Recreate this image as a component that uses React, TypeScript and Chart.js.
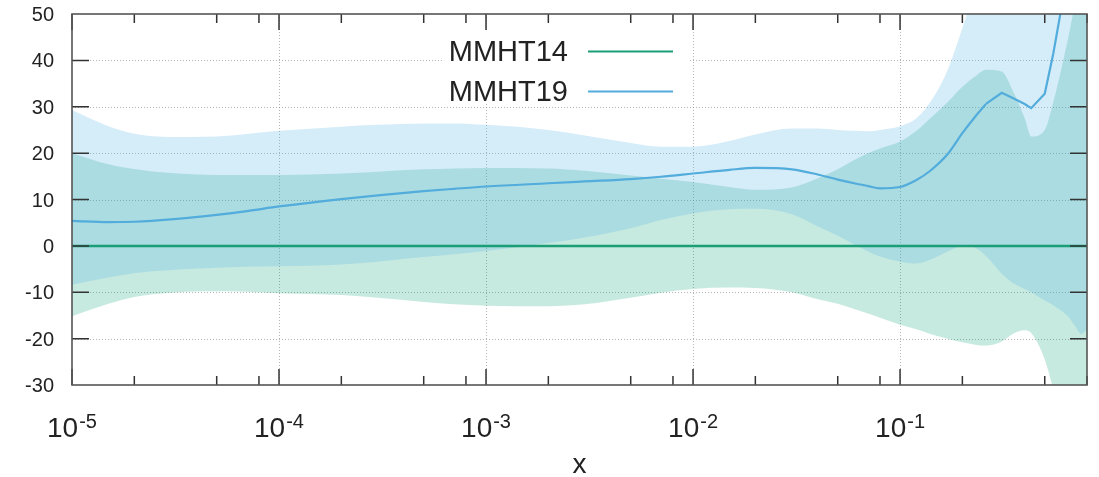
import React, { useEffect, useRef } from 'react';
import { Chart, registerables } from 'chart.js';

Chart.register(...registerables);

const W = 1099;
const H = 477;
const FONT = '"Liberation Sans", Arial, Helvetica, sans-serif';

// ---------- data ----------
const xValues = [
  1e-5, 1.5e-5, 2e-5, 3e-5, 5e-5, 7e-5, 1e-4, 2e-4, 3e-4, 5e-4, 7e-4,
  1e-3, 2e-3, 3e-3, 5e-3, 7e-3, 1e-2, 1.5e-2, 2e-2, 3e-2, 4e-2, 5e-2,
  6e-2, 7e-2, 8e-2, 0.1, 0.12, 0.14, 0.17, 0.2, 0.23, 0.26, 0.31, 0.35,
  0.4, 0.43, 0.5, 0.55, 0.6, 0.65, 0.7, 0.75, 0.8,
];

const mmht14Central = [
  0, 0, 0, 0, 0, 0, 0, 0, 0, 0, 0, 0, 0, 0, 0, 0, 0, 0, 0, 0, 0, 0,
  0, 0, 0, 0, 0, 0, 0, 0, 0, 0, 0, 0, 0, 0, 0, 0, 0, 0, 0, 0, 0,
];
const mmht14Upper = [
  20.0, 17.6, 16.6, 15.7, 15.3, 15.3, 15.3, 15.6, 16.0, 16.5, 16.7,
  16.8, 16.7, 16.2, 15.2, 14.5, 13.8, 12.7, 12.1, 12.6, 14.6, 16.5,
  18.5, 20.0, 21.0, 22.5, 24.8, 27.5, 31.0, 34.3, 36.5, 38.0, 37.6, 33.5,
  27.5, 23.6, 25.0, 31, 38, 45, 52, 56, 56,
];
const mmht14Lower = [
  -15.2, -12.5, -11.0, -10.1, -9.8, -9.9, -10.2, -10.6, -11.2, -12.1, -12.6,
  -12.9, -13.0, -12.6, -11.2, -10.1, -9.3, -9.0, -9.1, -10.0, -11.5, -12.5,
  -13.6, -14.6, -15.5, -17.0, -18.0, -19.0, -20.0, -20.8, -21.3, -21.5, -20.6, -19.0,
  -18.2, -18.8, -24.5, -31, -38, -45, -52, -58, -62,
];

const mmht19Central = [
  5.4, 5.1, 5.2, 5.7, 6.7, 7.5, 8.5, 10.1, 10.9, 11.8, 12.3,
  12.8, 13.5, 13.9, 14.4, 14.9, 15.6, 16.4, 16.8, 16.5, 15.4, 14.3,
  13.5, 12.9, 12.4, 12.7, 14.2, 16.2, 19.8, 24.3, 27.8, 30.6, 33.0, 31.9,
  30.6, 29.7, 32.8, 41.5, 51, 60, 70, 80, 90,
];
const mmht19Upper = [
  29.3, 25.8, 24.2, 23.5, 23.6, 24.1, 24.8, 25.7, 26.1, 26.4, 26.4,
  26.1, 25.0, 23.8, 22.2, 21.4, 21.4, 22.6, 24.0, 25.3, 25.3, 25.0,
  24.8, 24.7, 25.0, 25.8, 27.5, 31.0, 38.0, 47, 55, 62, 70, 75,
  80, 82, 85, 88, 90, 92, 95, 97, 100,
];
const mmht19Lower = [
  -8.4, -6.8, -5.9, -5.2, -4.7, -4.5, -4.4, -4.0, -3.4, -2.4, -1.8,
  -1.1, 0.6, 1.8, 3.8, 5.6, 7.0, 7.9, 8.0, 6.8, 4.2, 2.2,
  0.3, -1.2, -2.3, -3.4, -3.8, -3.0, -1.2, -0.1, -0.4, -2.2, -6.0, -8.0,
  -9.3, -10.0, -11.8, -12.8, -14.0, -15.3, -17.3, -19.0, -18.0,
];

// above this x the MMHT19 central curve is drawn as straight segments (coarse grid)
const SMOOTH_LIMIT_X = 0.26;

const seriesLabels = ['MMHT14', 'MMHT19'];
const yTickValues = [-30, -20, -10, 0, 10, 20, 30, 40, 50];
const xMajorTicks = [1e-5, 1e-4, 1e-3, 1e-2, 1e-1];
const xMajorExponents = ['-5', '-4', '-3', '-2', '-1'];
const xMinorMultipliers = [2, 5, 8];
const xAxisTitle = 'x';

const X_MIN = 1e-5;
const X_MAX = 0.8;
const Y_MIN = -30;
const Y_MAX = 50;

// ---------- styles ----------
const GREEN = '#1b9d76';
const BLUE_LINE = '#52acdc';
const GREEN_FILL = 'rgba(0,158,115,0.22)';
const BLUE_FILL = 'rgba(86,180,233,0.25)';

const axesPlugin = {
  id: 'gnuplotAxes',
  beforeDatasetsDraw(chart: any) {
    const { ctx, chartArea: a, scales } = chart;
    const x = scales.x;
    const y = scales.y;
    ctx.save();
    ctx.strokeStyle = 'rgba(130,130,130,0.6)';
    ctx.lineWidth = 1;
    ctx.setLineDash([1, 2]);
    for (const v of yTickValues) {
      if (v === Y_MIN || v === Y_MAX) continue;
      const py = Math.round(y.getPixelForValue(v)) + 0.5;
      ctx.beginPath();
      ctx.moveTo(a.left, py);
      ctx.lineTo(a.right, py);
      ctx.stroke();
    }
    for (const v of xMajorTicks) {
      if (v <= X_MIN) continue;
      const px = Math.round(x.getPixelForValue(v)) + 0.5;
      ctx.beginPath();
      ctx.moveTo(px, a.top);
      ctx.lineTo(px, a.bottom);
      ctx.stroke();
    }
    ctx.restore();
  },
  afterDatasetsDraw(chart: any) {
    const { ctx, chartArea: a, scales } = chart;
    const x = scales.x;
    const y = scales.y;
    ctx.save();
    ctx.setLineDash([]);

    // ticks (inward, mirrored)
    ctx.strokeStyle = '#333';
    ctx.lineWidth = 1.5;
    for (const v of yTickValues) {
      if (v === Y_MIN || v === Y_MAX) continue;
      const py = y.getPixelForValue(v);
      ctx.beginPath();
      ctx.moveTo(a.left, py);
      ctx.lineTo(a.left + 17, py);
      ctx.moveTo(a.right, py);
      ctx.lineTo(a.right - 17, py);
      ctx.stroke();
    }
    for (const v of xMajorTicks) {
      const px = x.getPixelForValue(v);
      ctx.beginPath();
      ctx.moveTo(px, a.bottom);
      ctx.lineTo(px, a.bottom - 16);
      ctx.moveTo(px, a.top);
      ctx.lineTo(px, a.top + 16);
      ctx.stroke();
      for (const m of xMinorMultipliers) {
        const mv = v * m;
        if (mv > X_MAX) continue;
        const mp = x.getPixelForValue(mv);
        ctx.beginPath();
        ctx.moveTo(mp, a.bottom);
        ctx.lineTo(mp, a.bottom - 9);
        ctx.moveTo(mp, a.top);
        ctx.lineTo(mp, a.top + 9);
        ctx.stroke();
      }
    }

    // frame
    ctx.strokeStyle = '#555';
    ctx.lineWidth = 1.6;
    ctx.strokeRect(a.left, a.top, a.right - a.left, a.bottom - a.top);

    // y labels
    ctx.fillStyle = '#222';
    ctx.font = `20px ${FONT}`;
    ctx.textAlign = 'right';
    ctx.textBaseline = 'middle';
    for (const v of yTickValues) {
      ctx.fillText(String(v), a.left - 18, y.getPixelForValue(v) + 1.5);
    }

    // x labels (10 with superscript exponent)
    ctx.textAlign = 'left';
    ctx.textBaseline = 'alphabetic';
    xMajorTicks.forEach((v, i) => {
      const px = x.getPixelForValue(v);
      ctx.font = `28px ${FONT}`;
      const wb = ctx.measureText('10').width;
      ctx.font = `20px ${FONT}`;
      const ws = ctx.measureText(xMajorExponents[i]).width;
      const start = px - (wb + 1 + ws) / 2;
      ctx.font = `28px ${FONT}`;
      ctx.fillText('10', start, a.bottom + 52);
      ctx.font = `20px ${FONT}`;
      ctx.fillText(xMajorExponents[i], start + wb + 1, a.bottom + 43);
    });

    // axis title
    ctx.font = `28px ${FONT}`;
    ctx.textAlign = 'center';
    ctx.fillText(xAxisTitle, (a.left + a.right) / 2, a.bottom + 88);

    // legend (opaque key box)
    ctx.fillStyle = '#fff';
    ctx.fillRect(443, 30, 245, 74);
    const legendColors = [GREEN, BLUE_LINE];
    const legendY = [51.5, 91.5];
    seriesLabels.forEach((lab, i) => {
      ctx.fillStyle = '#222';
      ctx.font = `29px ${FONT}`;
      ctx.textAlign = 'right';
      ctx.textBaseline = 'middle';
      ctx.fillText(lab, 568, legendY[i] + 1);
      ctx.strokeStyle = legendColors[i];
      ctx.lineWidth = 2;
      ctx.beginPath();
      ctx.moveTo(588, legendY[i]);
      ctx.lineTo(673, legendY[i]);
      ctx.stroke();
    });

    ctx.restore();
  },
};

export default function App() {
  const ref = useRef<HTMLCanvasElement>(null);

  useEffect(() => {
    const canvas = ref.current;
    if (!canvas) return;
    const pts = (ys: number[]) => xValues.map((xv, i) => ({ x: xv, y: ys[i] }));
    const central19 = pts(mmht19Central);
    const band = (label: string, ys: number[], fill: any, color: string) => ({
      label,
      data: pts(ys),
      fill,
      backgroundColor: color,
      borderColor: 'rgba(0,0,0,0)',
      borderWidth: 0,
      pointRadius: 0,
      cubicInterpolationMode: 'monotone' as const,
    });
    const chart = new Chart(canvas, {
      type: 'line',
      data: {
        datasets: [
          {
            label: seriesLabels[0],
            data: pts(mmht14Central),
            borderColor: GREEN,
            borderWidth: 2.5,
            pointRadius: 0,
            fill: false,
          },
          {
            label: seriesLabels[1],
            data: central19.filter((p) => p.x <= SMOOTH_LIMIT_X),
            borderColor: BLUE_LINE,
            borderWidth: 2.2,
            pointRadius: 0,
            fill: false,
            cubicInterpolationMode: 'monotone',
          },
          {
            label: seriesLabels[1] + ' (high x)',
            data: central19.filter((p) => p.x >= SMOOTH_LIMIT_X),
            borderColor: BLUE_LINE,
            borderWidth: 2.2,
            pointRadius: 0,
            fill: false,
            tension: 0,
          },
          band('MMHT19 upper', mmht19Upper, '+1', BLUE_FILL),
          band('MMHT19 lower', mmht19Lower, false, 'rgba(0,0,0,0)'),
          band('MMHT14 upper', mmht14Upper, '+1', GREEN_FILL),
          band('MMHT14 lower', mmht14Lower, false, 'rgba(0,0,0,0)'),
        ],
      },
      options: {
        animation: false,
        responsive: false,
        events: [],
        layout: { padding: { left: 72, right: 12, top: 14, bottom: 92 } },
        scales: {
          x: { type: 'logarithmic', min: X_MIN, max: X_MAX, display: false },
          y: { type: 'linear', min: Y_MIN, max: Y_MAX, display: false },
        },
        plugins: {
          legend: { display: false },
          tooltip: { enabled: false },
        },
      },
      plugins: [axesPlugin],
    });
    return () => chart.destroy();
  }, []);

  return (
    <div style={{ position: 'fixed', left: 0, top: 0, width: W, height: H, background: '#fff' }}>
      <canvas ref={ref} width={W} height={H} style={{ display: 'block' }} />
    </div>
  );
}
